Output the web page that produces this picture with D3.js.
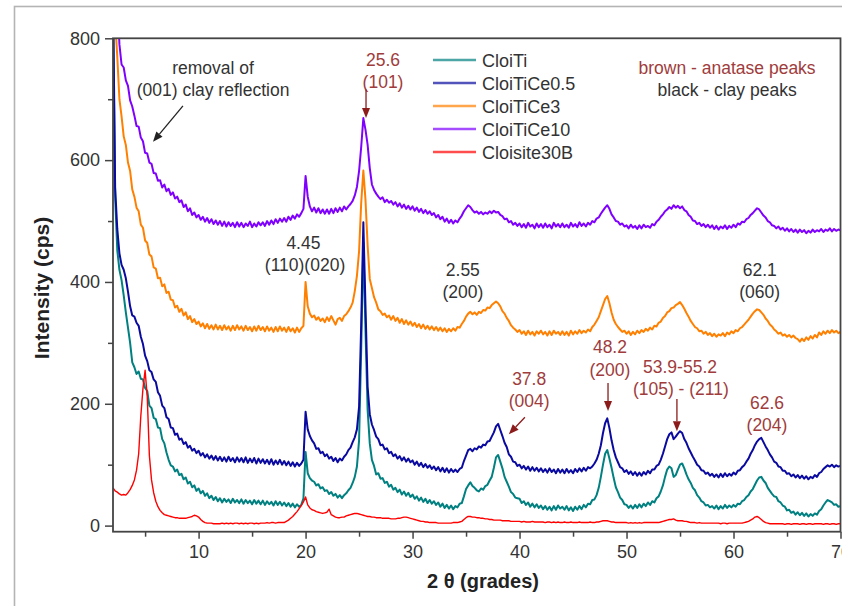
<!DOCTYPE html>
<html><head><meta charset="utf-8">
<script src="https://cdn.jsdelivr.net/npm/d3@7"></script>
<style>
body{margin:0;background:#fff}
svg{display:block;font-family:"Liberation Sans",Arial,Helvetica,sans-serif}
</style>
</head><body>
<svg id="chart" width="842" height="606"></svg>
<script>
// XRD scans: first angle and step (degrees 2θ); one intensity per step (cps)
const scanStart = 2, scanStep = 0.2;

const cloiTi = [
850,540,452,420,403,378,350,325,300,268, 260,249,253,241,240,226,221,197,193,177,
175,161,160,142,135,120,108,99,97,89, 92,83,85,76,79,69,72,63,66,57,
61,53,57,49,53,45,49,42,47,40, 45,38,44,39,43,37,44,38,42,37,
43,36,42,37,41,35,42,36,41,35, 41,34,40,35,39,33,40,34,39,33,
38,32,37,31,36,30,35,31,34,45, 121,86,78,74,72,66,68,61,63,57,
58,52,55,49,52,46,50,45,50,53, 58,62,70,80,97,140,290,465,320,190,
135,108,98,84,86,77,78,70,72,64, 67,59,62,55,59,51,56,49,54,47,
51,44,48,41,46,39,44,37,42,36, 40,34,38,31,36,29,34,28,33,27,
32,30,36,37,48,60,66,71,65,62, 58,56,61,59,65,67,74,80,95,112,
116,105,94,80,72,64,55,52,46,45, 44,37,40,34,38,31,36,30,35,29,
33,27,32,26,31,25,32,26,33,28, 31,26,32,25,30,24,31,26,32,27,
34,30,36,35,42,43,50,62,80,100, 118,124,110,95,78,63,55,46,42,35,
34,29,33,28,34,29,35,30,36,32, 38,34,40,38,45,48,56,66,80,92,
97,94,80,83,92,100,102,94,84,76, 70,62,58,50,46,40,38,33,34,30,
32,28,33,27,32,28,34,29,33,30, 34,31,36,35,40,42,47,50,56,60,
67,74,79,80,74,70,62,57,52,48, 47,40,38,33,31,25,26,21,23,18,
22,17,21,16,20,15,19,16,20,18, 24,27,33,38,42,40,38,34,35,31,
32];

const cloiTiCe05 = [
880,555,487,447,428,420,406,384,360,345, 343,333,328,310,298,279,270,255,252,240,
236,219,213,197,193,178,175,161,160,149, 151,141,143,134,137,128,131,123,126,119,
123,115,119,112,117,110,115,108,114,107, 113,106,112,105,113,106,111,104,112,105,
111,104,112,103,110,104,111,102,110,103, 109,102,108,101,109,100,107,101,108,100,
106,99,105,98,104,97,103,98,102,108, 187,158,147,140,135,126,127,119,121,114,
117,110,113,106,111,104,110,107,113,117, 124,128,137,145,158,195,330,498,360,228,
183,166,157,146,142,132,133,125,127,119, 121,114,117,110,114,107,112,105,110,104,
107,100,105,98,103,96,101,95,99,93, 97,91,96,89,95,88,94,87,93,88,
92,88,93,95,106,115,124,126,122,127, 125,130,128,133,132,138,139,146,153,163,
167,157,147,136,129,117,113,105,104,98, 100,94,98,92,97,90,96,90,95,89,
94,88,93,87,94,88,92,86,93,87, 92,86,93,87,91,86,93,88,94,89,
95,90,96,94,97,102,108,118,132,152, 168,176,160,140,124,112,104,96,94,88,
91,85,89,83,88,82,87,82,88,84, 90,86,92,92,98,100,108,118,130,142,
150,153,142,146,151,155,152,142,136,127, 120,113,107,100,97,91,90,85,87,82,
85,80,84,79,85,80,86,81,85,82, 87,84,90,91,96,99,105,110,118,124,
132,138,142,144,137,130,124,117,112,105, 103,97,96,90,90,85,86,81,84,79,
83,78,82,77,81,76,80,78,83,80, 86,88,93,96,99,97,100,96,99,97,
98];

const cloiTiCe3 = [
900,830,770,700,672,639,625,596,582,552, 540,522,516,494,489,468,464,445,442,424,
422,406,407,393,396,382,384,371,370,358, 361,351,356,345,350,339,344,334,339,331,
335,327,332,324,331,323,329,322,330,322, 328,321,329,322,327,320,328,321,329,322,
327,320,328,321,326,319,327,320,328,321, 326,319,327,320,325,318,326,319,327,320,
325,318,326,319,324,317,325,318,324,328, 400,360,348,342,345,338,342,336,340,334,
342,336,344,337,330,339,341,336,344,347, 352,358,366,385,410,450,530,583,535,460,
405,390,375,366,355,352,346,348,342,345, 338,344,336,341,333,339,331,337,330,335,
328,333,326,331,324,330,323,328,322,327, 321,326,320,325,319,324,318,323,319,324,
320,326,325,331,336,343,348,351,347,350, 346,351,349,354,353,358,357,362,365,368,
365,360,352,348,341,336,329,325,322,318, 321,315,319,313,320,314,318,312,319,315,
320,314,318,312,319,313,320,315,318,313, 319,313,318,312,320,314,319,315,321,316,
320,317,322,319,326,330,336,342,352,362, 372,377,365,350,338,331,326,322,318,320,
315,319,313,318,314,320,316,321,318,323, 320,325,322,328,327,333,335,341,344,350,
352,357,358,362,364,367,362,356,349,343, 336,331,326,324,319,320,315,318,313,316,
311,315,310,314,312,316,311,317,314,319, 316,321,319,324,326,330,334,338,343,348,
352,355,354,350,346,340,336,330,327,322, 319,315,317,312,314,310,313,309,312,308,
306,302,307,303,309,305,311,307,313,309, 317,313,319,315,320,316,321,317,320,316,
318];

const cloiTiCe10 = [
1000,940,870,790,757,752,731,722,698,688, 673,656,655,637,631,612,611,596,594,579,
578,566,567,555,560,549,553,543,547,537, 540,531,534,523,527,516,521,510,514,506,
510,502,507,499,505,497,503,495,501,494, 500,492,499,491,498,492,497,490,498,491,
497,490,496,492,499,490,496,491,498,493, 498,492,500,494,501,495,503,497,504,499,
505,499,507,502,509,504,511,507,513,520, 574,540,524,516,522,514,521,513,519,512,
519,512,520,513,521,515,522,516,524,519, 524,528,533,542,556,582,622,669,650,625,
587,560,551,545,540,536,539,531,535,530, 533,527,531,524,529,522,527,520,525,519,
524,517,522,515,520,513,518,512,516,510, 513,506,510,503,507,499,504,497,502,496,
501,498,504,509,516,521,526,523,518,514, 516,512,515,511,514,512,516,513,517,514,
515,510,508,503,504,498,500,494,497,492, 496,490,495,489,497,491,494,488,496,490,
495,489,496,490,494,488,497,491,495,490, 496,490,494,489,497,491,495,490,498,492,
496,491,497,494,500,498,504,506,512,517, 522,526,520,511,506,500,499,494,496,491,
493,488,494,489,492,487,493,488,494,490, 492,489,495,493,499,502,507,511,516,519,
523,520,526,522,525,521,524,518,516,510, 507,501,500,495,497,492,495,490,494,489,
493,487,492,486,491,488,493,487,492,489, 494,490,496,494,499,498,503,505,510,513,
517,521,519,514,509,506,500,498,493,492, 488,491,486,489,484,488,483,487,482,486,
481,486,482,485,480,484,481,486,482,485, 483,487,482,486,484,488,483,487,484,486,
485];

const cloisite30B = [
62,57,55,52,50,51,50,54,59,66, 75,91,118,180,225,255,212,115,75,54,
40,31,25,21,18,17,16,15,14,13, 13,12,12,12,12,13,14,15,17,16,
14,10,7,5,4,4,4,3,3,3, 3,4,3,4,3,4,3,4,4,3,
4,3,4,3,4,4,3,4,3,4, 4,4,5,4,5,5,4,5,5,5,
5,7,9,12,15,19,23,28,33,39, 47,34,29,26,25,23,22,21,20,21,
22,27,18,16,14,13,13,14,14,16, 17,18,19,20,20,19,18,17,16,15,
15,14,14,13,13,13,12,12,12,12, 11,11,11,12,12,13,14,14,13,12,
11,10,9,8,7,7,6,6,5,5, 5,5,4,4,4,4,4,4,4,5,
5,5,6,7,10,13,15,15,14,14, 13,13,12,12,11,11,10,10,9,9,
9,9,8,8,8,8,7,7,7,7, 7,6,7,6,6,6,7,6,6,6,
6,6,5,6,6,5,6,5,6,5, 5,6,5,5,6,5,5,5,6,5,
5,5,5,6,5,5,6,6,7,8, 8,8,7,6,6,5,5,5,5,5,
5,4,5,4,5,4,5,4,5,5, 5,5,5,5,5,5,6,7,8,9,
10,10,11,9,8,8,8,7,7,6, 5,5,5,4,5,4,4,4,4,4,
4,4,4,4,3,4,4,3,4,4, 4,4,4,4,4,5,6,7,9,11,
14,15,13,10,7,5,4,3,3,3, 3,3,3,3,2,3,3,2,3,3,
3,2,3,3,2,3,3,2,3,3, 3,3,2,3,3,2,3,3,2,3,
3];

const seriesNames = ["CloiTi", "CloiTiCe0.5", "CloiTiCe3", "CloiTiCe10", "Cloisite30B"];
const seriesValues = [cloiTi, cloiTiCe05, cloiTiCe3, cloiTiCe10, cloisite30B];
const seriesColors = ["#008080", "#0a0aa0", "#ff8000", "#8000ff", "#ff0000"];

const xMajorTicks = [10, 20, 30, 40, 50, 60, 70];
const xMinorTicks = [5, 15, 25, 35, 45, 55, 65];
const yMajorTicks = [0, 200, 400, 600, 800];
const yMinorTicks = [100, 300, 500, 700];

const BROWN = "#a03c3c", ARROW_RED = "#8c1c1c", INK = "#333";

// peak labels, anchored in data space (2θ, cps)
const labels = [
  {t: "removal of", at: [11.35, 741], c: INK},
  {t: "(001) clay reflection", at: [11.35, 705], c: INK},
  {t: "25.6", at: [27.24, 755], c: BROWN},
  {t: "(101)", at: [27.24, 719], c: BROWN},
  {t: "brown - anatase peaks", at: [59.4, 741], c: BROWN},
  {t: "black - clay peaks", at: [59.4, 705], c: INK},
  {t: "4.45", at: [19.8, 454], c: INK},
  {t: "(110)(020)", at: [19.95, 418], c: INK},
  {t: "2.55", at: [34.7, 410], c: INK},
  {t: "(200)", at: [34.7, 374], c: INK},
  {t: "62.1", at: [62.45, 410], c: INK},
  {t: "(060)", at: [62.45, 374], c: INK},
  {t: "37.8", at: [40.9, 231], c: BROWN},
  {t: "(004)", at: [40.9, 195], c: BROWN},
  {t: "48.2", at: [48.45, 283], c: BROWN},
  {t: "(200)", at: [48.45, 246], c: BROWN},
  {t: "53.9-55.2", at: [55.0, 250], c: BROWN},
  {t: "(105) - (211)", at: [55.08, 214], c: BROWN},
  {t: "62.6", at: [63.13, 191], c: BROWN},
  {t: "(204)", at: [63.13, 155], c: BROWN}
];
const arrows = [
  {from: [8.54, 689], to: [5.74, 630], c: "#222"},
  {from: [25.65, 716], to: [25.65, 669], c: ARROW_RED},
  {from: [40.5, 178], to: [39.0, 150], c: ARROW_RED},
  {from: [48.27, 234], to: [48.27, 188], c: ARROW_RED},
  {from: [54.71, 208], to: [54.71, 155], c: ARROW_RED}
];

const svg = d3.select("#chart");
const plot = {left: 113, right: 840.5, top: 38.3, bottom: 531.7};
const x = d3.scaleLinear().domain([2, 70]).range([plot.left, plot.right]);
const y = d3.scaleLinear().domain([-10, 800]).range([plot.bottom, plot.top]);

// page frame
svg.append("rect").attr("x", 14.5).attr("y", 6.5).attr("width", 900).attr("height", 700)
  .attr("fill", "none").attr("stroke", "#b4b4b4").attr("stroke-width", 1.6);

svg.append("defs").append("clipPath").attr("id", "plotClip")
  .append("rect").attr("x", plot.left).attr("y", plot.top)
  .attr("width", plot.right - plot.left).attr("height", plot.bottom - plot.top);

// diffraction patterns
const line = d3.line()
  .x((d, i) => x(scanStart + i * scanStep))
  .y(d => y(d))
  .curve(d3.curveLinear);

const traces = svg.append("g").attr("clip-path", "url(#plotClip)");
seriesValues.forEach((vals, k) => {
  traces.append("path").datum(vals)
    .attr("d", line)
    .attr("fill", "none")
    .attr("stroke", seriesColors[k])
    .attr("stroke-width", k === 4 ? 1.4 : 2.0)
    .attr("stroke-linejoin", "round");
});

// axes
function styleAxis(g) {
  g.select(".domain").remove();
  g.selectAll(".tick line").attr("stroke", "#444").attr("stroke-width", 1.5);
  g.selectAll(".tick text").attr("fill", INK).style("font-size", "18px")
    .style("font-family", '"Liberation Sans", Arial, sans-serif');
}
svg.append("g").attr("transform", `translate(${plot.left},0)`)
  .call(d3.axisLeft(y).tickValues(yMajorTicks).tickSize(8).tickPadding(5))
  .call(styleAxis);
svg.append("g").attr("transform", `translate(${plot.left},0)`)
  .call(d3.axisLeft(y).tickValues(yMinorTicks).tickSize(5).tickFormat(""))
  .call(styleAxis);
svg.append("g").attr("transform", `translate(0,${plot.bottom})`)
  .call(d3.axisBottom(x).tickValues(xMajorTicks).tickSize(7).tickPadding(7))
  .call(styleAxis);
svg.append("g").attr("transform", `translate(0,${plot.bottom})`)
  .call(d3.axisBottom(x).tickValues(xMinorTicks).tickSize(5).tickFormat(""))
  .call(styleAxis);

// plot frame
svg.append("rect").attr("x", plot.left).attr("y", plot.top)
  .attr("width", plot.right - plot.left).attr("height", plot.bottom - plot.top)
  .attr("fill", "none").attr("stroke", "#444").attr("stroke-width", 1.8);

// axis titles
svg.append("text").attr("transform", "translate(49,288) rotate(-90)")
  .attr("text-anchor", "middle").attr("font-size", 21).attr("font-weight", "bold")
  .attr("fill", "#222").text("Intensity (cps)");
svg.append("text").attr("x", 483).attr("y", 588)
  .attr("text-anchor", "middle").attr("font-size", 20).attr("font-weight", "bold")
  .attr("fill", "#222").text("2 θ (grades)");

// legend
const legend = svg.append("g");
seriesNames.forEach((name, i) => {
  const ly = 60 + i * 23;
  legend.append("line").attr("x1", 433).attr("x2", 476).attr("y1", ly).attr("y2", ly)
    .attr("stroke", seriesColors[i]).attr("stroke-width", 2.4).attr("stroke-opacity", 0.7);
  legend.append("text").attr("x", 482).attr("y", ly + 6.5)
    .attr("font-size", 18).attr("fill", INK).text(name);
});

// annotations
const ann = svg.append("g");
labels.forEach(l => {
  ann.append("text").attr("x", x(l.at[0])).attr("y", y(l.at[1]))
    .attr("text-anchor", "middle").attr("font-size", 17.5).attr("fill", l.c).text(l.t);
});
arrows.forEach(a => {
  const x1 = x(a.from[0]), y1 = y(a.from[1]), x2 = x(a.to[0]), y2 = y(a.to[1]);
  const len = Math.hypot(x2 - x1, y2 - y1), ux = (x2 - x1) / len, uy = (y2 - y1) / len;
  const hl = 10, hw = 4;
  const bx = x2 - ux * hl, by = y2 - uy * hl;
  ann.append("line").attr("x1", x1).attr("y1", y1).attr("x2", bx).attr("y2", by)
    .attr("stroke", a.c).attr("stroke-width", 1.3);
  ann.append("path")
    .attr("d", `M${x2},${y2}L${bx - uy * hw},${by + ux * hw}L${bx + uy * hw},${by - ux * hw}Z`)
    .attr("fill", a.c);
});
</script>
</body></html>
